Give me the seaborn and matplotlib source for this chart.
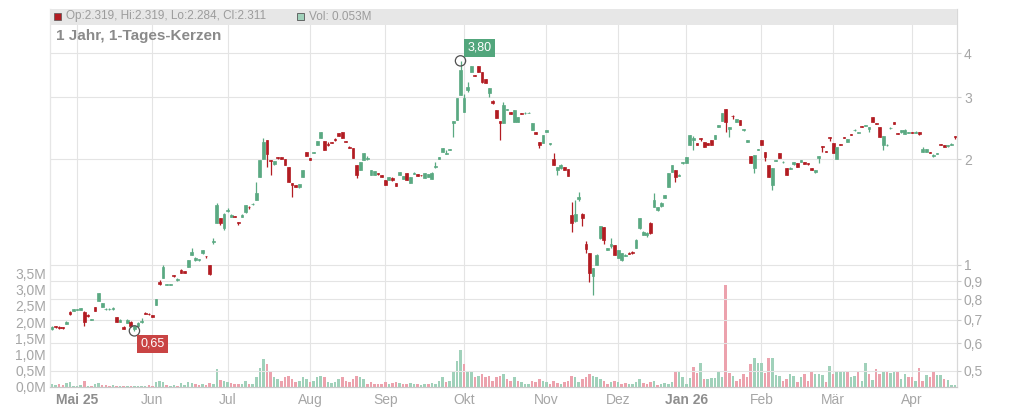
import numpy as np
import pandas as pd
import matplotlib
matplotlib.use("Agg")
import matplotlib.pyplot as plt
from matplotlib.patches import Rectangle
from matplotlib.ticker import NullLocator
import seaborn as sns

# ---------------- data ----------------
opens = [
    .660, .670, .668, .666, .680, .735, .740, .745, .745, .735,
    .722, .699, .760, .790, .760, .748, .748, .748, .710, .690,
    .667, .685, .690, .660, .670, .690, .732, .727, .720, .770,
    .895, .920, .879, .880, .935, .905, .970, .962, .990, 1.070,
    1.030, 1.030, 1.080, 1.062, 1.000, 1.160, 1.320, 1.360, 1.270, 1.425,
    1.370, 1.380, 1.325, 1.370, 1.410, 1.465, 1.488, 1.530, 1.780, 2.000,
    2.260, 1.990, 1.930, 2.020, 2.020, 2.000, 1.900, 1.710, 1.690, 1.660,
    1.780, 2.090, 2.010, 2.080, 2.190, 2.290, 2.250, 2.210, 2.235, 2.275,
    2.370, 2.380, 2.250, 2.165, 2.150, 1.920, 1.860, 1.990, 2.000, 1.800,
    1.800, 1.825, 1.800, 1.740, 1.740, 1.765, 1.710, 1.800, 1.760, 1.820,
    1.710, 1.810, 1.810, 1.802, 1.770, 1.780, 1.760, 1.895, 2.000, 2.100,
    2.065, 2.120, 2.530, 2.580, 3.040, 2.720, 3.150, 3.530, 3.470, 3.670,
    3.530, 3.380, 3.080, 2.920, 2.750, 2.560, 2.530, 2.750, 2.720, 2.550,
    2.550, 2.700, 2.695, 2.700, 2.420, 2.380, 2.230, 2.220, 2.390, 2.200,
    2.000, 1.860, 1.880, 1.900, 1.870, 1.390, 1.330, 1.540, 1.400, 1.150,
    1.080, .930, 1.000, 1.190, 1.280, 1.105, 1.130, 1.140, 1.050, 1.030,
    1.060, 1.085, 1.090, 1.120, 1.270, 1.220, 1.220, 1.320, 1.460, 1.430,
    1.470, 1.550, 1.670, 1.840, 1.860, 1.795, 1.945, 1.950, 2.190, 2.260,
    2.220, 2.295, 2.230, 2.220, 2.260, 2.280, 2.470, 2.560, 2.770, 2.440,
    2.655, 2.550, 2.580, 2.410, 2.240, 2.040, 1.890, 2.120, 2.260, 2.090,
    1.920, 1.690, 1.975, 2.080, 1.955, 1.880, 1.870, 1.930, 1.950, 1.960,
    1.960, 1.945, 1.880, 1.840, 2.010, 2.180, 2.110, 2.310, 2.220, 2.000,
    2.210, 2.305, 2.230, 2.360, 2.410, 2.375, 2.480, 2.480, 2.440, 2.630,
    2.530, 2.460, 2.190, 2.185, 2.445, 2.540, 2.370, 2.380, 2.360, 2.375,
    2.380, 2.375, 2.385, 2.100, 2.100, 2.095, 2.045, 2.065, 2.210, 2.190,
    2.175, 2.195, 2.319,
]
highs = [
    .670, .672, .670, .668, .693, .740, .752, .752, .757, .740,
    .724, .702, .762, .833, .782, .754, .753, .758, .712, .702,
    .669, .702, .692, .672, .690, .705, .734, .729, .722, .802,
    .905, 1.000, .884, .885, .937, .918, .972, .964, 1.033, 1.120,
    1.053, 1.043, 1.103, 1.064, 1.002, 1.190, 1.500, 1.362, 1.402, 1.450,
    1.392, 1.382, 1.327, 1.392, 1.482, 1.470, 1.500, 1.720, 1.993, 2.300,
    2.262, 1.992, 1.972, 2.022, 2.022, 2.002, 1.902, 1.712, 1.692, 1.702,
    1.862, 2.092, 2.012, 2.100, 2.252, 2.382, 2.252, 2.240, 2.240, 2.290,
    2.372, 2.382, 2.252, 2.180, 2.152, 1.922, 1.962, 2.082, 2.040, 1.862,
    1.852, 1.830, 1.802, 1.742, 1.782, 1.780, 1.712, 1.842, 1.792, 1.822,
    1.782, 1.832, 1.812, 1.805, 1.822, 1.812, 1.832, 1.960, 2.032, 2.152,
    2.120, 2.142, 2.562, 2.982, 3.800, 3.050, 3.300, 3.672, 3.472, 3.672,
    3.532, 3.382, 3.182, 2.950, 2.752, 2.562, 2.900, 2.782, 2.722, 2.752,
    2.632, 2.705, 2.720, 2.715, 2.532, 2.382, 2.232, 2.342, 2.412, 2.222,
    2.080, 1.902, 1.940, 1.902, 1.872, 1.510, 1.530, 1.610, 1.402, 1.170,
    1.082, .982, 1.072, 1.292, 1.282, 1.120, 1.190, 1.142, 1.102, 1.082,
    1.072, 1.087, 1.095, 1.182, 1.362, 1.250, 1.240, 1.322, 1.600, 1.462,
    1.505, 1.582, 1.822, 1.922, 1.862, 1.810, 1.960, 2.022, 2.342, 2.320,
    2.222, 2.300, 2.232, 2.222, 2.262, 2.342, 2.492, 2.702, 2.772, 2.462,
    2.660, 2.602, 2.582, 2.432, 2.262, 2.042, 2.052, 2.142, 2.262, 2.092,
    1.922, 1.882, 1.990, 2.082, 1.970, 1.882, 1.892, 1.962, 1.952, 1.992,
    1.962, 1.950, 1.882, 1.862, 2.042, 2.182, 2.112, 2.312, 2.222, 2.162,
    2.212, 2.310, 2.282, 2.362, 2.430, 2.390, 2.482, 2.502, 2.462, 2.632,
    2.532, 2.462, 2.322, 2.200, 2.460, 2.542, 2.372, 2.412, 2.440, 2.390,
    2.385, 2.395, 2.387, 2.170, 2.142, 2.097, 2.060, 2.080, 2.212, 2.192,
    2.190, 2.215, 2.319,
]
lows = [
    .655, .662, .660, .660, .678, .720, .738, .744, .743, .670,
    .714, .698, .738, .788, .758, .746, .747, .746, .688, .688,
    .658, .683, .668, .650, .668, .685, .726, .722, .712, .768,
    .880, .918, .877, .878, .926, .903, .948, .948, .988, 1.068,
    1.028, 1.028, 1.078, 1.050, .938, 1.150, 1.318, 1.300, 1.260, 1.410,
    1.368, 1.365, 1.300, 1.368, 1.408, 1.440, 1.485, 1.528, 1.778, 1.998,
    1.900, 1.800, 1.928, 2.005, 1.998, 1.918, 1.718, 1.560, 1.668, 1.658,
    1.778, 2.038, 1.988, 2.075, 2.188, 2.288, 2.118, 2.180, 2.220, 2.255,
    2.328, 2.288, 2.228, 2.150, 2.008, 1.770, 1.858, 1.988, 1.990, 1.798,
    1.798, 1.800, 1.778, 1.688, 1.738, 1.730, 1.678, 1.798, 1.758, 1.738,
    1.708, 1.808, 1.788, 1.795, 1.768, 1.778, 1.758, 1.890, 1.998, 2.098,
    2.060, 2.118, 2.310, 2.578, 3.038, 2.718, 3.100, 3.528, 3.448, 3.528,
    3.298, 3.278, 3.000, 2.860, 2.608, 2.260, 2.528, 2.748, 2.678, 2.548,
    2.548, 2.685, 2.690, 2.695, 2.418, 2.348, 2.150, 2.218, 2.388, 2.198,
    1.918, 1.800, 1.878, 1.858, 1.788, 1.240, 1.328, 1.520, 1.290, 1.080,
    .895, .820, .998, 1.188, 1.150, 1.100, 1.120, 1.068, 1.048, 1.028,
    1.058, 1.073, 1.078, 1.118, 1.268, 1.218, 1.200, 1.228, 1.458, 1.428,
    1.465, 1.548, 1.668, 1.838, 1.720, 1.790, 1.940, 1.948, 2.188, 2.120,
    2.188, 2.250, 2.158, 2.188, 2.188, 2.278, 2.468, 2.558, 2.380, 2.310,
    2.600, 2.548, 2.498, 2.408, 2.238, 1.948, 1.820, 2.118, 2.188, 1.980,
    1.778, 1.630, 1.970, 2.008, 1.950, 1.798, 1.868, 1.928, 1.898, 1.958,
    1.933, 1.928, 1.858, 1.830, 1.950, 2.100, 2.088, 2.250, 2.078, 1.998,
    2.188, 2.290, 2.228, 2.338, 2.405, 2.370, 2.458, 2.478, 2.380, 2.548,
    2.508, 2.308, 2.120, 2.180, 2.440, 2.518, 2.348, 2.378, 2.358, 2.370,
    2.372, 2.370, 2.340, 2.098, 2.098, 2.083, 2.030, 2.060, 2.188, 2.168,
    2.170, 2.190, 2.284,
]
closes = [
    .665, .665, .664, .662, .690, .725, .750, .750, .755, .690,
    .716, .701, .740, .830, .780, .752, .751, .756, .690, .700,
    .660, .700, .670, .670, .685, .695, .728, .724, .714, .800,
    .885, .990, .882, .883, .928, .912, .950, .950, 1.030, 1.090,
    1.050, 1.040, 1.100, 1.058, .940, 1.170, 1.480, 1.320, 1.400, 1.435,
    1.390, 1.370, 1.318, 1.390, 1.480, 1.458, 1.495, 1.600, 1.990, 2.230,
    2.070, 1.970, 1.970, 2.010, 2.000, 1.920, 1.720, 1.690, 1.670, 1.700,
    1.860, 2.040, 1.990, 2.095, 2.250, 2.380, 2.120, 2.190, 2.225, 2.265,
    2.330, 2.290, 2.230, 2.155, 2.010, 1.800, 1.960, 2.080, 2.010, 1.860,
    1.850, 1.815, 1.780, 1.690, 1.780, 1.745, 1.680, 1.840, 1.790, 1.740,
    1.780, 1.830, 1.790, 1.798, 1.820, 1.810, 1.830, 1.905, 2.030, 2.150,
    2.075, 2.140, 2.560, 2.980, 3.580, 2.980, 3.200, 3.670, 3.450, 3.530,
    3.300, 3.280, 3.180, 2.880, 2.610, 2.530, 2.840, 2.780, 2.680, 2.750,
    2.630, 2.690, 2.705, 2.705, 2.530, 2.350, 2.190, 2.340, 2.410, 2.220,
    1.920, 1.900, 1.920, 1.860, 1.790, 1.320, 1.400, 1.555, 1.360, 1.110,
    .950, .980, 1.070, 1.290, 1.180, 1.115, 1.150, 1.070, 1.100, 1.080,
    1.070, 1.075, 1.080, 1.180, 1.360, 1.240, 1.235, 1.230, 1.530, 1.460,
    1.500, 1.580, 1.820, 1.920, 1.780, 1.805, 1.955, 2.020, 2.340, 2.290,
    2.190, 2.285, 2.160, 2.190, 2.190, 2.340, 2.490, 2.700, 2.550, 2.460,
    2.645, 2.600, 2.500, 2.430, 2.260, 1.950, 2.050, 2.140, 2.190, 2.030,
    1.780, 1.880, 1.985, 2.010, 1.965, 1.800, 1.890, 1.960, 1.900, 1.990,
    1.935, 1.930, 1.860, 1.860, 2.040, 2.160, 2.090, 2.290, 2.080, 2.160,
    2.190, 2.295, 2.280, 2.340, 2.425, 2.385, 2.460, 2.500, 2.460, 2.550,
    2.510, 2.310, 2.320, 2.195, 2.455, 2.520, 2.350, 2.410, 2.420, 2.385,
    2.378, 2.385, 2.355, 2.140, 2.140, 2.085, 2.055, 2.075, 2.190, 2.170,
    2.185, 2.205, 2.311,
]
volumes = [  # millions
    0.08, 0.05, 0.1, 0.06, 0.12, 0.15, 0.03, 0.02, 0.05, 0.18,
    0.03, 0.02, 0.1, 0.12, 0.06, 0.05, 0.04, 0.06, 0.04, 0.03,
    0.04, 0.03, 0.03, 0.04, 0.03, 0.02, 0.03, 0.05, 0.04,
    0.15, 0.17, 0.15, 0.05, 0.03, 0.05, 0.03, 0.12, 0.05, 0.15,
    0.12, 0.08, 0.06, 0.08, 0.05, 0.12, 0.1, 0.55, 0.22, 0.2, 0.15,
    0.12, 0.1, 0.08, 0.1, 0.2, 0.08, 0.1, 0.3, 0.6, 0.85,
    0.7, 0.45, 0.3, 0.25, 0.2, 0.3, 0.35, 0.25, 0.15, 0.2, 0.3, 0.25, 0.15,
    0.2, 0.3, 0.35, 0.3, 0.15, 0.12, 0.15, 0.25, 0.3, 0.2,
    0.15, 0.25, 0.35, 0.3, 0.25, 0.1, 0.15, 0.1, 0.08, 0.1, 0.15,
    0.1, 0.12, 0.15, 0.12, 0.08, 0.1, 0.12, 0.1, 0.08, 0.06,
    0.1, 0.08, 0.12, 0.1, 0.2, 0.3, 0.15, 0.2, 0.5, 0.8, 1.15, 0.7, 0.5, 0.45,
    0.3, 0.35, 0.4, 0.3, 0.35, 0.2, 0.3, 0.35, 0.4, 0.25,
    0.2, 0.3, 0.2, 0.15, 0.1, 0.1, 0.2, 0.15, 0.25, 0.2, 0.15, 0.1, 0.2,
    0.12, 0.1, 0.15, 0.2, 0.35, 0.3, 0.15, 0.25, 0.3, 0.4,
    0.35, 0.3, 0.25, 0.2, 0.1, 0.15, 0.2, 0.15, 0.1, 0.12,
    0.08, 0.1, 0.15, 0.25, 0.12, 0.1, 0.15,
    0.2, 0.05, 0.08, 0.12, 0.1, 0.15,
    0.48, 0.45, 0.3, 0.1, 0.28, 0.62, 0.43, 0.75, 0.25, 0.25,
    0.27, 0.28, 0.45, 0.3, 3.15, 0.42, 0.35, 0.18, 0.25, 0.4,
    0.32, 0.72, 0.9, 0.73, 0.75, 0.42, 0.88, 0.88, 0.38, 0.35,
    0.18, 0.25, 0.4, 0.35, 0.15, 0.32, 0.4, 0.2, 0.47, 0.4,
    0.4, 0.38, 0.15, 0.65, 0.4, 0.45, 0.45, 0.45, 0.45, 0.3,
    0.35, 0.45, 0.2, 0.75, 0.4, 0.22, 0.55, 0.4, 0.45, 0.5,
    0.43, 0.5, 0.48, 0.25, 0.4, 0.3, 0.3, 0.2, 0.6, 0.18,
    0.38, 0.32, 0.45, 0.37, 0.37, 0.25, 0.22, 0.05, 0.053,
]
holidays = ["2025-05-01", "2025-12-24", "2025-12-25", "2025-12-26",
            "2025-12-31", "2026-01-01", "2026-04-03", "2026-04-06"]
month_labels = ["Mai 25", "Jun", "Jul", "Aug", "Sep", "Okt", "Nov", "Dez",
                "Jan 26", "Feb", "Mär", "Apr"]
bold_labels = ["Mai 25", "Jan 26"]
price_ticks = [0.5, 0.6, 0.7, 0.8, 0.9, 1, 2, 3, 4]
price_tick_labels = ["0,5", "0,6", "0,7", "0,8", "0,9", "1", "2", "3", "4"]
vol_ticks = [0, 0.5, 1.0, 1.5, 2.0, 2.5, 3.0, 3.5]
vol_tick_labels = ["0,0M", "0,5M", "1,0M", "1,5M", "2,0M", "2,5M", "3,0M", "3,5M"]
title = "1 Jahr, 1-Tages-Kerzen"
header_ohlc = "Op:2.319, Hi:2.319, Lo:2.284, Cl:2.311"
header_vol = "Vol: 0.053M"

n = len(closes)
assert len(opens) == n and len(highs) == n and len(lows) == n and len(volumes) == n, \
    (len(opens), len(highs), len(lows), len(closes), len(volumes))

# ---------------- style ----------------
GREEN = "#5aa982"
RED = "#b21c22"
VOL_UP = "#a0d1ba"
VOL_DOWN = "#eca2ad"
GRID = "#e4e4e4"
TXT = "#a6a6a6"

sns.set_theme(style="white")
plt.rcParams["font.family"] = ["Liberation Sans", "DejaVu Sans"]

dates = pd.bdate_range("2025-04-22", "2026-04-21", freq="C", holidays=holidays)[:n]
df = pd.DataFrame({
    "x": np.arange(n), "date": dates, "open": opens, "high": highs,
    "low": lows, "close": closes, "volume": volumes,
})
prev = df["close"].shift(1).fillna(df["open"])
df["vol_dir"] = np.where(df["close"] >= prev, "up", "down")

fig = plt.figure(figsize=(10.24, 4.09), dpi=100)
L, B, W, H = 50 / 1024, 22 / 409, 907 / 1024, 378 / 409
ax_vol = fig.add_axes([L, B, W, H])
ax = ax_vol.twinx()

# volume bars (seaborn)
sns.barplot(data=df, x="x", y="volume", hue="vol_dir",
            palette={"up": VOL_UP, "down": VOL_DOWN}, native_scale=True,
            dodge=False, width=0.7, errorbar=None, saturation=1,
            legend=False, linewidth=0, ax=ax_vol)
ax_vol.set_ylim(0, 11.65)
ax_vol.set_xlim(-0.56, n - 1 + 0.56)
ax_vol.set_xlabel("")
ax_vol.set_ylabel("")

# candles
up = df["close"] >= df["open"]
cols = np.where(up, GREEN, RED)
ax.vlines(df["x"], df["low"], df["high"], colors=cols, linewidth=0.9, zorder=3)
body_lo = np.minimum(df["open"], df["close"])
body_h = np.abs(df["close"] - df["open"])
ax.bar(df["x"], body_h, bottom=body_lo, width=0.76, color=cols,
       edgecolor=cols, linewidth=0.5, zorder=4)
ax.set_yscale("log")
ax.set_ylim(0.4503, 5.334)
ax.set_yticks(price_ticks)
ax.set_yticklabels(price_tick_labels)
ax.yaxis.set_minor_locator(NullLocator())
ax.grid(axis="y", which="major", color=GRID, linewidth=0.8)
ax.set_axisbelow(True)
ax.tick_params(axis="y", which="major", length=3, width=0.8, color="#cfcfcf",
               pad=2, labelsize=10, labelcolor=TXT)
ax.set_ylabel("")

# x ticks at first trading day of each month
first_idx = df.groupby(df["date"].dt.to_period("M"))["x"].min().values[1:]
ax_vol.set_xticks(first_idx[:len(month_labels)])
ax_vol.set_xticklabels(month_labels)
ax_vol.grid(axis="x", color=GRID, linewidth=0.8)
ax_vol.grid(axis="y", visible=False)
ax_vol.set_axisbelow(True)
ax_vol.tick_params(axis="x", length=0, pad=4, labelsize=10, labelcolor=TXT)
for lbl in ax_vol.get_xticklabels():
    if lbl.get_text() in bold_labels:
        lbl.set_fontweight("bold")
        lbl.set_color("#8e8e8e")
ax_vol.set_yticks(vol_ticks)
ax_vol.set_yticklabels(vol_tick_labels)
ax_vol.tick_params(axis="y", length=0, pad=3, labelsize=10, labelcolor=TXT)

for a in (ax_vol, ax):
    a.spines["top"].set_visible(False)
    a.spines["left"].set_color("#e6e6e6")
    a.spines["right"].set_color("#d8d8d8")
    a.spines["bottom"].set_color("#c8c8c8")
    for s in a.spines.values():
        s.set_linewidth(0.8)

# header band
band_h = 16 / 378
ax.add_patch(Rectangle((0, 1 - band_h), 1, band_h, transform=ax.transAxes,
                       facecolor="#e7e7e7", edgecolor="none", zorder=10,
                       clip_on=False))
fig.add_artist(Rectangle((54 / 1024, 1 - 20 / 409), 7 / 1024, 7 / 409,
                         transform=fig.transFigure, facecolor=RED,
                         edgecolor="#555555", linewidth=0.5))
fig.text(66 / 1024, 1 - 16.5 / 409, header_ohlc, fontsize=8.5, color="#9c9c9c",
         va="center", ha="left")
fig.add_artist(Rectangle((297 / 1024, 1 - 20 / 409), 7 / 1024, 7 / 409,
                         transform=fig.transFigure, facecolor=VOL_UP,
                         edgecolor="#555555", linewidth=0.6))
fig.text(309 / 1024, 1 - 16.5 / 409, header_vol, fontsize=8.5, color="#9c9c9c",
         va="center", ha="left")
fig.text(56 / 1024, 1 - 36 / 409, title, fontsize=11, fontweight="bold",
         color="#8a8a8a", va="center", ha="left")

# max / min markers
imax = int(np.argmax(highs))
imin = int(np.argmin(lows))
ax.scatter([imax, imin], [highs[imax], lows[imin]], s=55, facecolors="none",
           edgecolors="#505050", linewidths=0.9, zorder=6)
ax.annotate(f"{highs[imax]:.2f}".replace(".", ","), xy=(imax, highs[imax]),
            xytext=(7, 7), textcoords="offset pixels", ha="left", va="bottom",
            fontsize=9, color="white", zorder=7,
            bbox=dict(boxstyle="square,pad=0.25", facecolor="#52a67c",
                      edgecolor="none"))
ax.annotate(f"{lows[imin]:.2f}".replace(".", ","), xy=(imin, lows[imin]),
            xytext=(6, -7), textcoords="offset pixels", ha="left", va="top",
            fontsize=9, color="white", zorder=7,
            bbox=dict(boxstyle="square,pad=0.25", facecolor="#c94444",
                      edgecolor="none"))

fig.savefig("out.png", dpi=100)
